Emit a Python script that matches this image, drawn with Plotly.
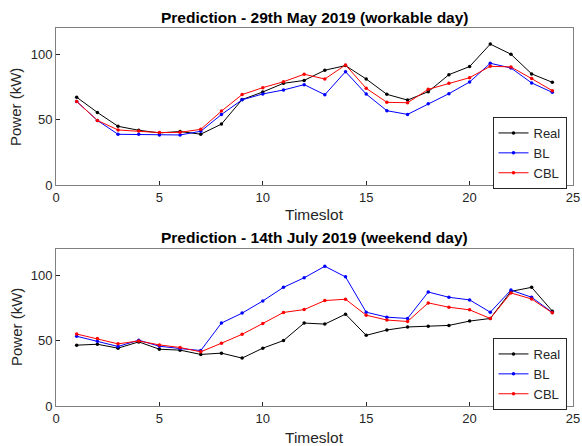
import plotly.graph_objects as go
from plotly.subplots import make_subplots

timeslot = list(range(1, 25))

may_real = [67.2, 55.6, 45, 42, 40, 41, 39, 46.7, 65.4, 71.2, 77.8, 80, 87.8, 91.3, 81.1, 69.4, 65, 71.4, 84.4, 90.6, 107.7, 100, 85, 78.6]
may_bl = [64, 49.5, 38.9, 38.9, 38.4, 38.4, 41.2, 54, 65.2, 69.7, 72.7, 76.8, 69.1, 86.7, 69.6, 56.9, 54.1, 62.2, 69.9, 78.8, 93.1, 89.5, 78.1, 70.9]
may_cbl = [63.9, 49.5, 42.2, 41.4, 40.2, 40.4, 42.7, 56.6, 69.2, 74.5, 79, 84.7, 81.1, 91.8, 74, 63.3, 63, 73.2, 77.8, 82.1, 90.8, 90.3, 81.4, 72.2]

jul_real = [46.5, 47.2, 44.2, 49, 43.4, 42.7, 39.4, 40.4, 36.6, 44.2, 50, 63.4, 62.6, 70.2, 54, 58.1, 60.4, 60.9, 61.6, 64.9, 66.9, 87.6, 90.7, 72.5]
jul_bl = [53.3, 49.5, 45.5, 50.3, 45.7, 43.9, 42.4, 63.4, 71, 80.3, 90.7, 98, 106.8, 98.7, 71.7, 67.9, 66.9, 87.1, 83.1, 81.1, 71.7, 88.6, 83.1, 71.5]
jul_cbl = [55, 51.5, 47.5, 49.7, 46.7, 44.7, 41.4, 48, 54.8, 63.1, 71.5, 73.7, 80.6, 81.6, 69.4, 65.7, 64.6, 78.8, 75.5, 73.5, 66.9, 86.4, 81.8, 71.2]

titles = ["Prediction - 29th May 2019 (workable day)", "Prediction - 14th July 2019 (weekend day)"]
names = ["Real", "BL", "CBL"]
colors = ["#000000", "#0000ff", "#ff0000"]
x_ticks = [0, 5, 10, 15, 20, 25]
y_ticks = [0, 50, 100]

W, H = 582, 446
ml, mr, mt, mb = 56, 8.5, 28, 40
pw = W - ml - mr
ph = H - mt - mb
top_bottom = (406 - 185.3) / ph
bot_top = (406 - 249) / ph

fig = make_subplots(rows=2, cols=1)
fig.update_layout(
    yaxis=dict(domain=[top_bottom, 1]),
    yaxis2=dict(domain=[0, bot_top]),
)

font_family = "Liberation Sans, Arial, sans-serif"
datasets = [[may_real, may_bl, may_cbl], [jul_real, jul_bl, jul_cbl]]
for r, ds in enumerate(datasets, start=1):
    for name, col, vals in zip(names, colors, ds):
        fig.add_trace(go.Scatter(
            x=timeslot, y=vals, name=name, mode="lines+markers",
            line=dict(color=col, width=1),
            marker=dict(color=col, size=3.5),
            legend="legend" if r == 1 else "legend2",
        ), row=r, col=1)

axis_common = dict(
    showgrid=False, zeroline=False, showline=True, mirror=True,
    linecolor="#808080", linewidth=1, ticks="inside", ticklen=4,
    tickcolor="#262626", automargin=False,
    tickfont=dict(size=13, color="#262626", family=font_family),
)
for r in (1, 2):
    fig.update_xaxes(range=[0, 25], tickvals=x_ticks, row=r, col=1, **axis_common)
    fig.update_yaxes(range=[0, 120], tickvals=y_ticks, row=r, col=1, **axis_common)

def py(pix):
    return (H - mb - pix) / ph

annots = []
for t, ypix in zip(titles, [17, 237]):
    annots.append(dict(text="<b>" + t + "</b>", xref="paper", yref="paper",
                       x=0.5, y=py(ypix), xanchor="center", yanchor="middle",
                       showarrow=False, font=dict(size=15.5, color="#000000", family=font_family)))
for ypix in (215, 437):
    annots.append(dict(text="Timeslot", xref="paper", yref="paper",
                       x=0.5, y=py(ypix), xanchor="center", yanchor="middle",
                       showarrow=False, font=dict(size=15.5, color="#262626", family=font_family)))
for ypix in (107, 327):
    annots.append(dict(text="Power (kW)", xref="paper", yref="paper", textangle=-90,
                       x=(16 - ml) / pw, y=py(ypix), xanchor="center", yanchor="middle",
                       showarrow=False, font=dict(size=15, color="#262626", family=font_family)))

leg = dict(xanchor="right", yanchor="middle", bgcolor="#ffffff", bordercolor="#262626",
           borderwidth=1, font=dict(size=13, color="#262626", family=font_family),
           tracegroupgap=0)
fig.update_layout(
    width=W, height=H, margin=dict(l=ml, r=mr, t=mt, b=mb),
    paper_bgcolor="#ffffff", plot_bgcolor="#ffffff",
    annotations=annots,
    legend=dict(x=(567 - ml) / pw, y=py(153), **leg),
    legend2=dict(x=(567 - ml) / pw, y=py(374), **leg),
)

fig.write_html("out.html", config={"displayModeBar": False},
               post_script="document.body.style.margin='0';document.body.style.overflow='hidden';")
